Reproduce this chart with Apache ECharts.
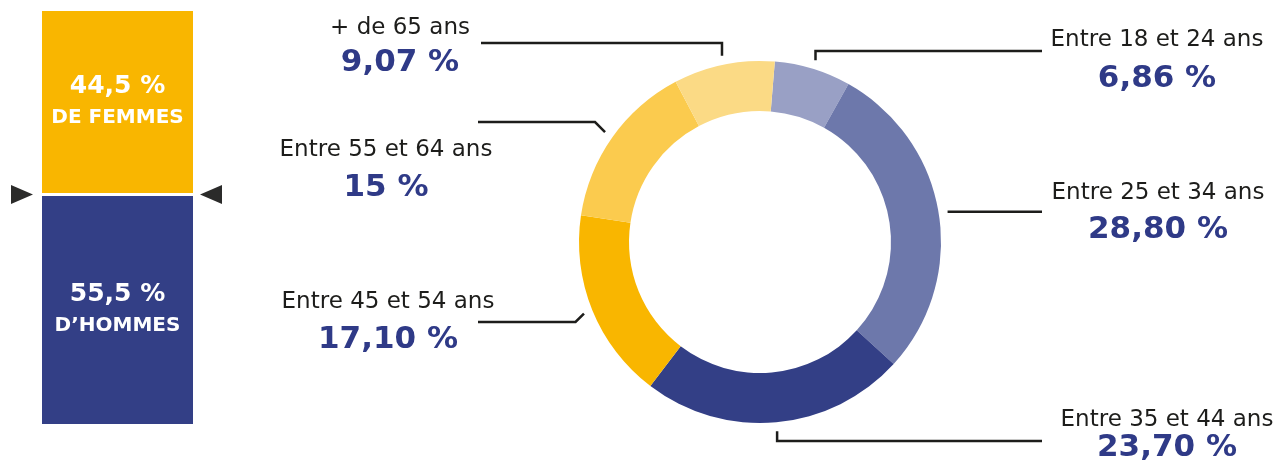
<!DOCTYPE html>
<html>
<head>
<meta charset="utf-8">
<script src="https://cdn.jsdelivr.net/npm/echarts@6/dist/echarts.min.js"></script>
<style>
  html, body { margin: 0; padding: 0; background: #fff; }
  #chart { width: 1275px; height: 465px; }
</style>
</head>
<body>
<div id="chart"></div>
<script>
// genre (barre empilée à gauche)
var genderNames = ["DE FEMMES", "D’HOMMES"];
var genderValues = [44.5, 55.5];

// tranches d'âge (anneau), dans le sens horaire depuis le haut
var ageNames = ["Entre 18 et 24 ans", "Entre 25 et 34 ans", "Entre 35 et 44 ans", "Entre 45 et 54 ans", "Entre 55 et 64 ans", "+ de 65 ans"];
var ageValues = [6.86, 28.80, 23.70, 17.10, 15, 9.07];

var ageColors = ["#99a0c5", "#6d78ab", "#333f86", "#f9b600", "#fbcb4e", "#fbda85"];
var FONT = "DejaVu Sans";

// géométrie de l'anneau
var pieCenter = [760, 242];
var pieRadius = [131, 181];
var pieStart = 85.3;

// position des étiquettes : [centre x, centre y de la 1re ligne, écart entre lignes]
var labelSpots = [
  [1157, 40, 39],
  [1158, 193, 37],
  [1167, 420, 28],
  [388, 302, 38],
  [386, 150, 38],
  [400, 28, 35]
];
// traits de rappel : [coude, niveau horizontal y, x de fin]
var leaderSpec = [
  ["v", 51, 1042],
  ["h", null, 1042],
  ["v", 441, 1042],
  ["d", 322, 478],
  ["d", 122, 478],
  ["v", 43, 481]
];

function pct(v) {
  return (Number.isInteger(v) ? String(v) : v.toFixed(2)).replace(".", ",") + " %";
}

function leaderPoints(i) {
  var total = 0, before = 0;
  for (var k = 0; k < ageValues.length; k++) {
    total += ageValues[k];
    if (k < i) before += ageValues[k];
  }
  var deg = 90 - pieStart + (before + ageValues[i] / 2) / total * 360;
  var t = deg * Math.PI / 180;
  var r = pieRadius[1] + 9;
  var x0 = pieCenter[0] + r * Math.sin(t);
  var y0 = pieCenter[1] - r * Math.cos(t);
  var s = leaderSpec[i];
  var level = s[1] == null ? y0 : s[1];
  var x1 = x0;
  if (s[0] === "d") x1 = x0 + (s[2] < x0 ? -1 : 1) * Math.abs(level - y0);
  return [[x0, y0], [x1, level], [s[2], level]];
}

var rich = {
  a: { fontFamily: FONT, fontSize: 23, color: "#1d1d1b", lineHeight: 30 }
};
for (var i = 0; i < labelSpots.length; i++) {
  rich["b" + i] = {
    fontFamily: FONT, fontSize: 31, fontWeight: "bold", color: "#2f3a87",
    lineHeight: 2 * (labelSpots[i][2] - 15)
  };
}

var pieData = [];
for (var j = 0; j < ageValues.length; j++) {
  pieData.push({ name: ageNames[j], value: ageValues[j], itemStyle: { color: ageColors[j] } });
}

var boxRich = {
  v: { fontFamily: FONT, fontSize: 25, fontWeight: "bold", color: "#fff", lineHeight: 31 },
  t: { fontFamily: FONT, fontSize: 20, fontWeight: "bold", color: "#fff", lineHeight: 31 }
};
function boxLabel(k) {
  return {
    show: true,
    position: "inside",
    formatter: "{v|" + genderValues[k].toFixed(1).replace(".", ",") + " %}\n{t|" + genderNames[k] + "}",
    rich: boxRich
  };
}

var chart = echarts.init(document.getElementById("chart"));
var option = {
  animation: false,
  backgroundColor: "#fff",
  grid: { left: 40.5, top: 9.5, width: 154, height: 416 },
  xAxis: { type: "category", data: ["genre"], show: false },
  yAxis: { type: "value", min: 0, max: 100, show: false },
  series: [
    {
      name: genderNames[1],
      type: "bar",
      stack: "genre",
      barWidth: "100%",
      data: [genderValues[1]],
      itemStyle: { color: "#333f86", borderColor: "#fff", borderWidth: 1.5 },
      label: boxLabel(1),
      markPoint: {
        symbol: "triangle",
        symbolSize: [19, 22],
        silent: true,
        label: { show: false },
        itemStyle: { color: "#2b2b2a" },
        data: [
          { coord: [0, genderValues[1]], symbolRotate: -90, symbolOffset: [-95.5, 0] },
          { coord: [0, genderValues[1]], symbolRotate: 90, symbolOffset: [93.5, 0] }
        ]
      }
    },
    {
      name: genderNames[0],
      type: "bar",
      stack: "genre",
      barWidth: "100%",
      data: [genderValues[0]],
      itemStyle: { color: "#f9b600", borderColor: "#fff", borderWidth: 1.5 },
      label: boxLabel(0)
    },
    {
      name: "âge",
      type: "pie",
      center: pieCenter,
      radius: pieRadius,
      startAngle: pieStart,
      clockwise: true,
      avoidLabelOverlap: false,
      padAngle: 0,
      itemStyle: { borderWidth: 0 },
      emphasis: { disabled: true },
      data: pieData,
      label: {
        show: true,
        position: "outside",
        formatter: function (p) {
          return "{a|" + p.name + "}\n{b" + p.dataIndex + "|" + pct(p.value) + "}";
        },
        rich: rich
      },
      labelLine: {
        show: true,
        length: 10,
        length2: 10,
        lineStyle: { color: "#1d1d1b", width: 2.5 }
      },
      labelLayout: function (params) {
        var i = params.dataIndex;
        var spot = labelSpots[i];
        return {
          x: spot[0],
          y: spot[1] - 15,
          align: "center",
          verticalAlign: "top",
          labelLinePoints: leaderPoints(i)
        };
      }
    }
  ]
};
chart.setOption(option);
</script>
</body>
</html>
